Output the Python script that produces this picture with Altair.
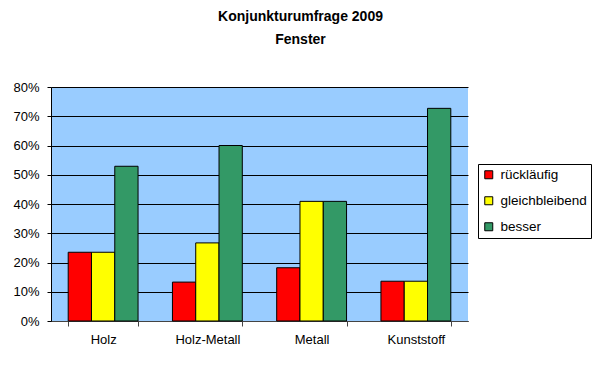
import altair as alt
import pandas as pd

categories = ["Holz", "Holz-Metall", "Metall", "Kunststoff"]
series = ["rückläufig", "gleichbleibend", "besser"]
ruecklaeufig = [0.235, 0.133, 0.182, 0.136]
gleichbleibend = [0.235, 0.267, 0.409, 0.136]
besser = [0.529, 0.600, 0.409, 0.727]
colors = ["#FF0000", "#FFFF00", "#339966"]

rows = []
for i, c in enumerate(categories):
    for s, vals in zip(series, [ruecklaeufig, gleichbleibend, besser]):
        rows.append({"Kategorie": c, "Serie": s, "Wert": vals[i]})
df = pd.DataFrame(rows)

bars = alt.Chart(df).mark_bar(stroke="black", strokeWidth=1).encode(
    x=alt.X("Kategorie:N", sort=categories, title=None,
            scale=alt.Scale(paddingInner=0.33, paddingOuter=0.165),
            axis=alt.Axis(labelAngle=0, tickBand="extent", labelFont="Liberation Sans",
                          labelFontSize=13, labelColor="black", domainColor="#444444",
                          tickColor="#444444", tickSize=5, labelPadding=7, grid=False)),
    xOffset=alt.XOffset("Serie:N", sort=series),
    y=alt.Y("Wert:Q", title=None,
            scale=alt.Scale(domain=[0, 0.8]),
            axis=alt.Axis(format=".0%", values=[0, 0.1, 0.2, 0.3, 0.4, 0.5, 0.6, 0.7, 0.8],
                          labelFont="Liberation Sans", labelFontSize=13, labelColor="black",
                          domainColor="black", tickColor="black", gridColor="black",
                          gridOpacity=1, gridWidth=1, tickSize=4, labelPadding=8)),
    color=alt.Color("Serie:N", sort=series,
                    scale=alt.Scale(domain=series, range=colors),
                    legend=alt.Legend(title=None, orient="none", legendX=427, legendY=77,
                                      strokeColor="black", padding=4, symbolType="square",
                                      symbolStrokeColor="black", symbolStrokeWidth=1,
                                      symbolSize=64, labelFont="Liberation Sans",
                                      labelFontSize=13.5, labelColor="black", rowPadding=11,
                                      labelOffset=5, fillColor="white")),
)

chart = bars.properties(
    width=417, height=234,
    autosize=alt.AutoSizeParams(type="none"),
    padding={"left": 43, "top": 79, "right": 124, "bottom": 37},
    background="white",
    title=alt.TitleParams(["Konjunkturumfrage 2009", "Fenster"], font="Liberation Sans",
                          fontSize=14, fontWeight="bold", color="black", anchor="middle",
                          dx=41, lineHeight=23, offset=34),
).configure_view(fill="#99CCFF", stroke=None)

chart.save("out.html", embed_options={"renderer": "svg", "actions": False})
